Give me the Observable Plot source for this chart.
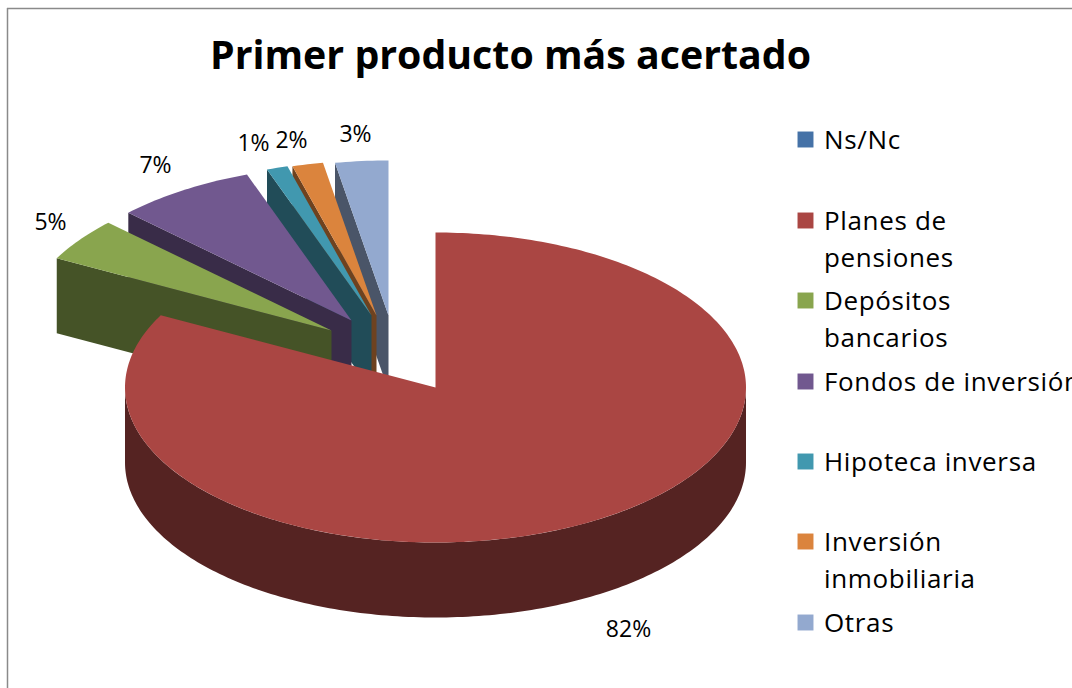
<!DOCTYPE html>
<html><head><meta charset="utf-8">
<script src="https://cdn.jsdelivr.net/npm/d3@7"></script>
<script src="https://cdn.jsdelivr.net/npm/@observablehq/plot@0.6"></script>
<style>html,body{margin:0;padding:0;background:#fff;overflow:hidden}
.legend-text text{letter-spacing:.65px}</style>
</head><body><div id="chart"></div>
<script>
const titleText = "Primer producto más acertado";
const categories = ["Ns/Nc","Planes de\npensiones","Depósitos\nbancarios","Fondos de inversión","Hipoteca inversa","Inversión\ninmobiliaria","Otras"];
const values = [0, 82.49, 4.51, 7.28, 1.1, 1.6, 2.75];
const colors = ["#4572A7","#AA4643","#89A54E","#71588F","#4198AF","#DB843D","#93A9CF"];

// layout of the drawing
const W = 1072, H = 688, FONT = "'Open Sans', sans-serif";
const cx = 435, cy = 387, rx = 310.5, ry = 155, depth = 75;
const explode = [[0,0],[0,0],[-104,-57],[-84,-67],[-64,-72],[-59,-72],[-47,-72]];
const labelPos = [null,[628,629],[50,222],[155,165],[253,143],[291,140],[355,134]];
const legendY = [139,220,300,381,461,541,622];

const total = d3.sum(values);
let acc = 0;
const slices = values.map((v,i)=>{const a0=acc; acc+=v/total*360; return {i,v,a0,a1:acc};});
const pt = (s,a)=>{const r=a*Math.PI/180; return [cx+explode[s.i][0]+rx*Math.sin(r), cy+explode[s.i][1]-ry*Math.cos(r)];};
const arc = (s,a0,a1)=>{const n=Math.max(2,Math.ceil(Math.abs(a1-a0))); return d3.range(n+1).map(k=>pt(s,a0+(a1-a0)*k/n));};
const side = c=>{const k=d3.rgb(c); return d3.rgb(k.r*.5,k.g*.5,k.b*.5).formatHex();};

const faces = [];
const push=(id,color,pts)=>pts.forEach(([x,y])=>faces.push({id,color,x,y}));
// back to front: last slice first
for (const s of [...slices].reverse()) {
  if (s.v===0) continue;
  const v=[cx+explode[s.i][0],cy+explode[s.i][1]];
  if (s.a1-s.a0<180) { // exploded wedges show their left cut face
    const t=pt(s,s.a0);
    push("cut"+s.i,side(colors[s.i]),[v,t,[t[0],t[1]+depth],[v[0],v[1]+depth]]);
  } else { // the big wedge shows its outer wall
    const top=arc(s,90,270);
    push("wall"+s.i,side(colors[s.i]),[...top,...top.slice().reverse().map(([x,y])=>[x,y+depth])]);
  }
  push("top"+s.i,colors[s.i],[v,...arc(s,s.a0,s.a1)]);
}

const pctLabels = slices.filter(s=>s.v>0).map(s=>({text:Math.round(s.v)+"%",x:labelPos[s.i][0],y:labelPos[s.i][1]}));
const legendItems = categories.map((c,i)=>({c,color:colors[i],y:legendY[i]}));
const legendLines = legendItems.flatMap(d=>d.c.split("\n").map((t,k)=>({t,y:d.y+1+k*37.5})));

const chart = Plot.plot({
  width:W,height:H,margin:0,
  style:{background:"#fff",overflow:"hidden"},
  x:{domain:[0,W],range:[0,W],axis:null},
  y:{domain:[0,H],range:[0,H],axis:null},
  color:{type:"identity"},
  marks:[
    Plot.ruleX([7],{y1:8,y2:H,stroke:"#8a8a8a",strokeWidth:1.5}),
    Plot.ruleY([8],{x1:7,x2:W,stroke:"#8a8a8a",strokeWidth:1.5}),
    Plot.line(faces,{x:"x",y:"y",z:"id",fill:"color",stroke:"none"}),
    Plot.text([titleText],{x:()=>510,y:()=>56,text:d=>d,fontFamily:FONT,fontWeight:700,fontSize:39.3,fill:"#000",lineAnchor:"middle"}),
    Plot.text(pctLabels,{x:"x",y:"y",text:"text",fontFamily:FONT,fontSize:23,fill:"#000",lineAnchor:"middle"}),
    Plot.dot(legendItems,{x:()=>805,y:"y",symbol:"square",r:9,fill:"color",stroke:"none"}),
    Plot.text(legendLines,{x:()=>823.5,y:"y",text:"t",textAnchor:"start",fontFamily:FONT,fontSize:26,fill:"#000",lineAnchor:"middle",className:"legend-text"})
  ]
});
document.getElementById("chart").appendChild(chart);
</script></body></html>
